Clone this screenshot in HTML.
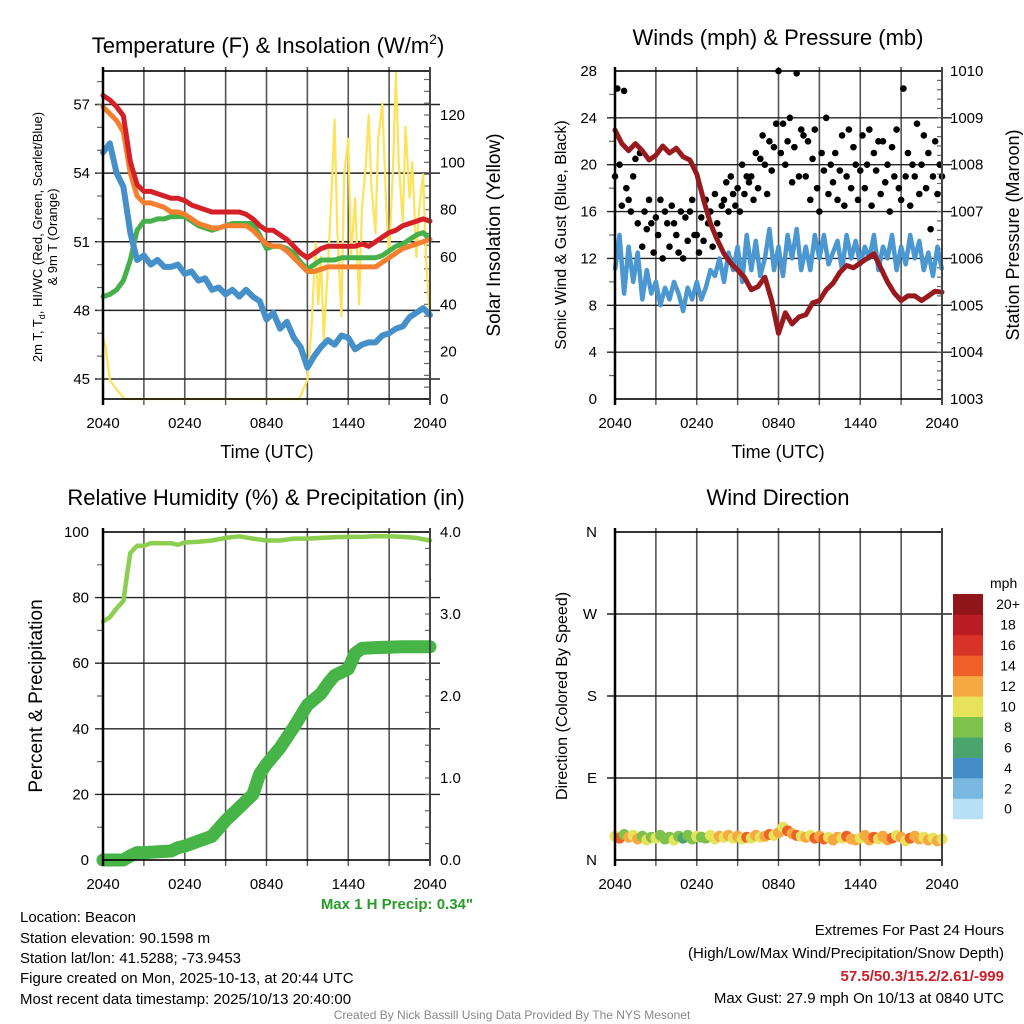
<!DOCTYPE html>
<html><head><meta charset="utf-8">
<style>
html,body{margin:0;padding:0;background:#fff;}
svg{display:block;font-family:"Liberation Sans",Arial,sans-serif;}
</style></head>
<body>
<svg id="fig" width="1024" height="1024" viewBox="0 0 1024 1024" xmlns="http://www.w3.org/2000/svg">
<rect width="1024" height="1024" fill="#fff"/>
<text x="268" y="53" font-size="22" text-anchor="middle">Temperature (F) &amp; Insolation (W/m<tspan font-size="14" dy="-9">2</tspan><tspan dy="9">)</tspan></text>
<text x="778" y="45" font-size="22" text-anchor="middle">Winds (mph) &amp; Pressure (mb)</text>
<text x="266" y="505" font-size="22" text-anchor="middle">Relative Humidity (%) &amp; Precipitation (in)</text>
<text x="778" y="505" font-size="22" text-anchor="middle">Wind Direction</text>

<g font-size="15">
<text x="20" y="922">Location: Beacon</text>
<text x="20" y="943">Station elevation: 90.1598 m</text>
<text x="20" y="963">Station lat/lon: 41.5288; -73.9453</text>
<text x="20" y="983">Figure created on Mon, 2025-10-13, at 20:44 UTC</text>
<text x="20" y="1004">Most recent data timestamp: 2025/10/13 20:40:00</text>
</g>
<text x="473" y="909" font-size="15" font-weight="bold" fill="#2a9a2a" text-anchor="end">Max 1 H Precip: 0.34"</text>
<g font-size="15" text-anchor="end">
<text x="1004" y="935">Extremes For Past 24 Hours</text>
<text x="1004" y="958">(High/Low/Max Wind/Precipitation/Snow Depth)</text>
<text x="1004" y="981" fill="#c8202a" font-weight="bold">57.5/50.3/15.2/2.61/-999</text>
<text x="1004" y="1003">Max Gust: 27.9 mph On 10/13 at 0840 UTC</text>
</g>
<text x="512" y="1019" font-size="12" fill="#888" text-anchor="middle">Created By Nick Bassill Using Data Provided By The NYS Mesonet</text>
</svg>
<script>
// ---------- data ----------
const timeTicks = ["2040","0240","0840","1440","2040"];
const tempTicks = [45,48,51,54,57];
const solarTicks = [0,20,40,60,80,100,120];
const airTemp = [57.4,57.2,56.9,56.5,54.5,53.5,53.2,53.2,53.1,53.0,52.9,52.9,52.8,52.6,52.5,52.4,52.3,52.3,52.3,52.3,52.3,52.2,52.0,51.7,51.5,51.5,51.3,51.1,50.8,50.5,50.3,50.5,50.7,50.8,50.8,50.8,50.8,50.8,50.9,50.8,51.0,51.2,51.4,51.5,51.7,51.8,51.9,52.0,51.9];
const temp9m = [56.9,56.6,56.3,55.8,54.0,53.0,52.7,52.7,52.6,52.5,52.3,52.3,52.2,52.0,51.8,51.7,51.6,51.6,51.7,51.7,51.7,51.7,51.5,51.2,50.9,50.8,50.8,50.6,50.3,50.0,49.7,49.7,49.8,49.9,49.9,49.9,49.9,49.9,49.9,49.9,49.9,50.1,50.3,50.5,50.7,50.8,50.9,51.0,51.1];
const heatIndex = [48.6,48.7,48.9,49.3,50.2,51.5,51.9,51.9,52.0,52.0,52.1,52.1,52.1,51.9,51.7,51.6,51.5,51.6,51.7,51.8,51.8,51.8,51.8,51.3,50.7,50.8,50.8,50.7,50.5,50.1,49.8,50.0,50.2,50.2,50.2,50.3,50.3,50.3,50.3,50.3,50.3,50.4,50.6,50.8,50.9,51.1,51.3,51.4,51.1];
const dewPoint = [54.9,55.3,54.0,53.4,51.4,50.2,50.4,50.0,50.2,49.9,49.9,50.0,49.6,49.7,49.3,49.4,48.9,49.0,48.7,48.9,48.6,48.9,48.6,48.4,47.6,47.9,47.2,47.5,46.8,46.4,45.5,46.0,46.4,46.7,46.5,46.9,46.8,46.3,46.5,46.6,46.6,46.9,47.0,47.2,47.3,47.7,47.9,48.1,47.8];
const solarHours = [0,0.2,0.5,1,1.6,14.4,15.0,15.3,15.6,15.8,16.0,16.2,16.5,16.8,17.0,17.2,17.5,17.7,18.0,18.2,18.5,18.8,19.0,19.3,19.5,19.7,20.0,20.2,20.5,20.8,21.0,21.3,21.5,21.7,22.0,22.2,22.5,22.7,23.0,23.2,23.5,23.7,24.0];
const solarVals = [26,22,8,4,0,0,8,30,66,40,60,25,55,90,118,70,35,95,110,60,85,40,80,100,120,90,70,110,125,80,60,100,138,100,75,115,85,100,60,80,95,60,33];

const windTicks = [0,4,8,12,16,20,24,28];
const pressTicks = [1003,1004,1005,1006,1007,1008,1009,1010];
const windSpeed = [11,14,9,13,10,12.5,8.5,11,9,10,8,9.5,8.5,10,9,7.5,9.5,8.5,10,8.5,9.5,11,10.5,12,10,12.5,11,13,10,14,11,13.5,10.5,12,14.5,11,13,10.5,14,12,14.5,11,13,11,14,12,14,11.5,12.5,13.5,11,14,12,13.5,11.5,13,12,14,11,13,12,14,11,13,11.5,14,12,13.5,11,12.5,10.5,13,11];
const windGust = [19,26.5,20,16.5,26.3,18,17,16,19,20.5,15,21,13,16,14.5,17,15,12.5,15.5,14,17,12,16,15,13,16.5,15,14,12.5,16,12,15.5,13.5,16,17,14,14,12.5,15.5,13.5,17,15,16,13,17.5,15,14,16.5,17,18.5,16,19,17.5,16.5,18,16,20,17.5,19,18.5,19,17,21,18,20.5,22.5,20,17.5,22,19.5,21.5,23.5,28,21,23.5,20,22,24,18.5,21.5,27.8,19,23,22.5,19,22,17,20.5,23,18,16,21,19.5,24,17.5,20,18.5,21,17,19.5,22.5,16.5,19,23,18,21.5,20,17,19.5,22.5,18,20,23,16.5,21,19.5,22,17.5,22,18.5,20,16,21.5,19,23,18,17,26.5,19,21,16.5,20,19,23.5,17.5,20,22.5,18,21,14.5,19,22,17.5,20,19];
const pressure = [1008.74,1008.45,1008.3,1008.45,1008.3,1008.1,1008.2,1008.4,1008.25,1008.35,1008.17,1008.1,1007.8,1007.25,1006.75,1006.4,1006.1,1005.9,1005.75,1005.6,1005.33,1005.4,1005.6,1005.1,1004.4,1004.84,1004.6,1004.75,1004.8,1005.05,1005.1,1005.33,1005.47,1005.7,1005.85,1005.8,1005.9,1006.0,1006.1,1005.8,1005.5,1005.26,1005.1,1005.2,1005.2,1005.1,1005.2,1005.3,1005.28];

const rhTicks = [0,20,40,60,80,100];
const precipTicks = ["0.0","1.0","2.0","3.0","4.0"];
const rhHours = [0,0.5,1,1.5,1.8,2,2.5,3,3.5,4,5,5.5,6,7,8,9,10,11,12,13,14,15,16,17,18,19,20,21,22,23,24];
const rhVals = [72.7,74,76.7,79,88,93.6,95.8,95.8,96.6,96.6,96.6,96.1,96.8,97,97.4,98.2,98.7,98,97.4,97.4,98,98,98.2,98.4,98.5,98.5,98.7,98.7,98.5,98.2,97.4];
const precipHours = [0,1.5,2,2.5,3,5,5.5,6,7,8,9,10,11,11.5,12,13,14,15,16,16.5,17,18,18.5,19,20,22,24];
const precipVals = [0,0,0.05,0.09,0.09,0.11,0.15,0.17,0.23,0.29,0.48,0.64,0.80,1.05,1.17,1.37,1.62,1.89,2.03,2.15,2.25,2.33,2.52,2.58,2.59,2.6,2.6];

const dirLabels = ["N","E","S","W","N"];
const windDir = [26,24,28,25,27,23,26,22,25,24,27,23,25,22,26,24,27,23,26,25,24,27,23,26,25,27,24,26,23,25,24,27,25,26,28,27,30,36,32,29,27,26,25,27,24,26,23,25,22,25,24,26,23,22,24,27,22,25,23,26,22,24,27,25,21,24,26,23,25,22,24,21,23];
const speedBins = ["0","2","4","6","8","10","12","14","16","18","20+"];
const binColors = ["#b5e0f6","#7ab8e2","#468cc6","#4aa56d","#7dc24a","#e6e25a","#f6a841","#ef6129","#d93227","#b91c23","#8f1519"];

// ---------- helpers ----------
const NS="http://www.w3.org/2000/svg";
const svg=document.getElementById('fig');
function mk(tag,attrs,parent){const e=document.createElementNS(NS,tag);for(const k in attrs)e.setAttribute(k,attrs[k]);(parent||svg).appendChild(e);return e;}
function lin(d0,d1,r0,r1){return v=>r0+(v-d0)/(d1-d0)*(r1-r0);}
function linePath(xs,ys){return xs.map((x,i)=>(i?'L':'M')+x.toFixed(1)+','+ys[i].toFixed(1)).join('');}
function uniformHours(n){const a=[];for(let i=0;i<n;i++)a.push(i/(n-1)*24);return a;}

function frame(g,L,T,R,B){
  for(let k=0;k<=8;k++){const x=L+(R-L)*k/8;
    const gl=mk('line',{x1:x,y1:T-4,x2:x,y2:B,stroke:'#555','stroke-width':1.6},g);
    
    const t=mk('line',{x1:x,y1:B,x2:x,y2:B+6,stroke:'#555','stroke-width':1.4},g);
    }
  const lab=mk('g',{'font-size':15,'text-anchor':'middle'},g);
  
  timeTicks.forEach((s,i)=>{const t=mk('text',{x:L+(R-L)*i/4,y:B+29},lab);t.textContent=s;
    });
}
function border(g,L,T,R,B){
  const r=mk('rect',{x:L,y:T,width:R-L,height:B-T,fill:'none',stroke:'#000','stroke-width':1.6},g);
  
  const ax=mk('line',{x1:L,y1:T-4,x2:L,y2:B+6,stroke:'#000','stroke-width':2.5},g);
  
  const ax2=mk('line',{x1:R,y1:T-4,x2:R,y2:B+6,stroke:'#444','stroke-width':2},g);
  
}
function hgrid(g,L,R,ys){ys.forEach(y=>{const l=mk('line',{x1:L-8,y1:y,x2:R+10,y2:y,stroke:'#222','stroke-width':1.4},g);
  });}
function leftLabels(g,x,vals,yf,fs){const gg=mk('g',{'font-size':fs||15,'text-anchor':'end'},g);
  
  vals.forEach(v=>{const t=mk('text',{x:x,y:yf(v)+5},gg);t.textContent=v;
  });}
function rightLabels(g,x,vals,yf){const gg=mk('g',{'font-size':15,'text-anchor':'start'},g);
  
  vals.forEach(v=>{const t=mk('text',{x:x,y:yf(+v)+5},gg);t.textContent=v;
  });}
function minorTicks(g,x,ys,len){ys.forEach(y=>{const l=mk('line',{x1:x,y1:y,x2:x+len,y2:y,stroke:'#666','stroke-width':1.2},g);
  });}
function axisTitle(g,x,y,txt,rot,fs){const t=mk('text',{x:x,y:y,'font-size':fs||18,'text-anchor':'middle',transform:rot?`rotate(-90 ${x} ${y})`:''},g);t.textContent=txt;return t;}

// ---------- Panel 1: temperature ----------
{
const L=103,R=430,T=71,B=399;
const g=mk('g',{});
const X=lin(0,24,L,R), Y=lin(45,57,379,104.5), YS=lin(0,120,399,115);
frame(g,L,T,R,B);
hgrid(g,L,R,tempTicks.map(Y));
const mt=[];for(let v=45;v<=58;v++)mt.push(Y(v));minorTicks(g,L-6,mt,6);
const ms=[];for(let v=0;v<=140;v+=5)ms.push(YS(v));minorTicks(g,R-6,ms.filter(y=>y>=T),6);
leftLabels(g,90,tempTicks,Y);
rightLabels(g,440,solarTicks,YS);
const sol=mk('path',{d:linePath(solarHours.map(X),solarVals.map(YS)),fill:'none',stroke:'#fde25a','stroke-width':2.2,'stroke-linejoin':'round'},g);

[[heatIndex,'#46b14a','heat-index-line'],[temp9m,'#f47f2f','temp-9m-line'],[airTemp,'#d52027','air-temp-line'],[dewPoint,'#4590cb','dew-point-line']].forEach(([arr,c,n])=>{
  const p=mk('path',{d:linePath(uniformHours(arr.length).map(X),arr.map(Y)),fill:'none',stroke:c,'stroke-width':n==='dew-point-line'?6:5,'stroke-linejoin':'round','stroke-linecap':'round'},g);
  });
border(g,L,T,R,B);
const xt=axisTitle(g,267,458,'Time (UTC)',false,18);
const yt=mk('text',{'font-size':13,'text-anchor':'middle',transform:'translate(42,237) rotate(-90)'},g);

yt.innerHTML='<tspan x="0" y="0">2m T, T<tspan font-size="9" dy="3">d</tspan><tspan dy="-3">, HI/WC (Red, Green, Scarlet/Blue)</tspan></tspan><tspan x="0" y="15">&amp; 9m T (Orange)</tspan>';
const y2=axisTitle(g,500,235,'Solar Insolation (Yellow)',true,19);
}

// ---------- Panel 2: winds ----------
{
const L=615,R=942,T=71,B=399;
const g=mk('g',{});
const X=lin(0,24,L,R), Y=lin(0,28,399,71), YP=lin(1003,1010,399,71);
frame(g,L,T,R,B);
hgrid(g,L,R,windTicks.slice(1,7).map(Y));
const mt=[];for(let v=2;v<=26;v+=4)mt.push(Y(v));minorTicks(g,L-6,mt,6);
const mp=[];for(let v=1003;v<=1010;v+=0.2)mp.push(YP(v));minorTicks(g,R-5,mp,5);
leftLabels(g,597,windTicks,Y);
rightLabels(g,950,pressTicks,YP);
const gs=mk('g',{fill:'#000'},g);
windGust.forEach((v,i)=>{const c=mk('circle',{cx:X(i/(windGust.length-1)*24),cy:Y(v),r:3.3},gs);
  });
const ws=mk('path',{d:linePath(uniformHours(windSpeed.length).map(X),windSpeed.map(Y)),fill:'none',stroke:'#4a97d2','stroke-width':4.5,'stroke-linejoin':'round'},g);

const pr=mk('path',{d:linePath(uniformHours(pressure.length).map(X),pressure.map(YP)),fill:'none',stroke:'#981a1e','stroke-width':5,'stroke-linejoin':'round','stroke-linecap':'round'},g);

border(g,L,T,R,B);
const xt=axisTitle(g,778,458,'Time (UTC)',false,18);
const y1=axisTitle(g,566,235,'Sonic Wind & Gust (Blue, Black)',true,16);
const y2=axisTitle(g,1019,235,'Station Pressure (Maroon)',true,18);
}

// ---------- Panel 3: humidity ----------
{
const L=103,R=430,T=532,B=860;
const g=mk('g',{});
const X=lin(0,24,L,R), Y=lin(0,100,860,532), YP=lin(0,4,860,532);
frame(g,L,T,R,B);
hgrid(g,L,R,rhTicks.slice(1,5).map(Y));
const mt=[];for(let v=10;v<=90;v+=20)mt.push(Y(v));minorTicks(g,L-6,mt,6);
const mp=[];for(let v=0;v<=4;v+=0.2)mp.push(YP(v));minorTicks(g,R-5,mp,5);
leftLabels(g,89,rhTicks,Y);
rightLabels(g,440,precipTicks,YP);
const rh=mk('path',{d:linePath(rhHours.map(X),rhVals.map(Y)),fill:'none',stroke:'#8cce50','stroke-width':4.5,'stroke-linejoin':'round','stroke-linecap':'round'},g);

const pc=mk('path',{d:linePath(precipHours.map(X),precipVals.map(YP)),fill:'none',stroke:'#46b446','stroke-width':13,'stroke-linejoin':'round','stroke-linecap':'round'},g);

border(g,L,T,R,B);
const yt=axisTitle(g,42,696,'Percent & Precipitation',true,19);
}

// ---------- Panel 4: wind direction ----------
{
const L=615,R=942,T=532,B=860;
const g=mk('g',{});
const X=lin(0,24,L,R), Y=lin(0,360,860,532);
frame(g,L,T,R,B);
hgrid(g,L,R,[90,180,270].map(Y));
const ll=mk('g',{'font-size':15,'text-anchor':'end'},g);
dirLabels.forEach((s,i)=>{const t=mk('text',{x:597,y:Y(i*90)+5},ll);t.textContent=s;
  });
const dg=mk('g',{},g);
windDir.forEach((d,i)=>{const s=windSpeed[Math.min(i,windSpeed.length-1)];const k=Math.min(10,Math.floor(s/2));
  const c=mk('circle',{cx:X(i/(windDir.length-1)*24),cy:Y(d),r:5.5,fill:binColors[k]},dg);
  });
border(g,L,T,R,B);
const yt=axisTitle(g,567,696,'Direction (Colored By Speed)',true,16);
const cb=mk('g',{},svg);
const u=mk('text',{x:990,y:588,'font-size':14},cb);u.textContent='mph';

const bh=20.45;
speedBins.forEach((lbl,k)=>{const y=594+(10-k)*bh;
  const r=mk('rect',{x:953,y:y,width:30,height:bh+0.3,fill:binColors[k]},cb);
  
  const t=mk('text',{x:1008,y:y+bh/2+5,'font-size':14,'text-anchor':'middle'},cb);t.textContent=lbl;
  });
}
</script>
</body></html>
